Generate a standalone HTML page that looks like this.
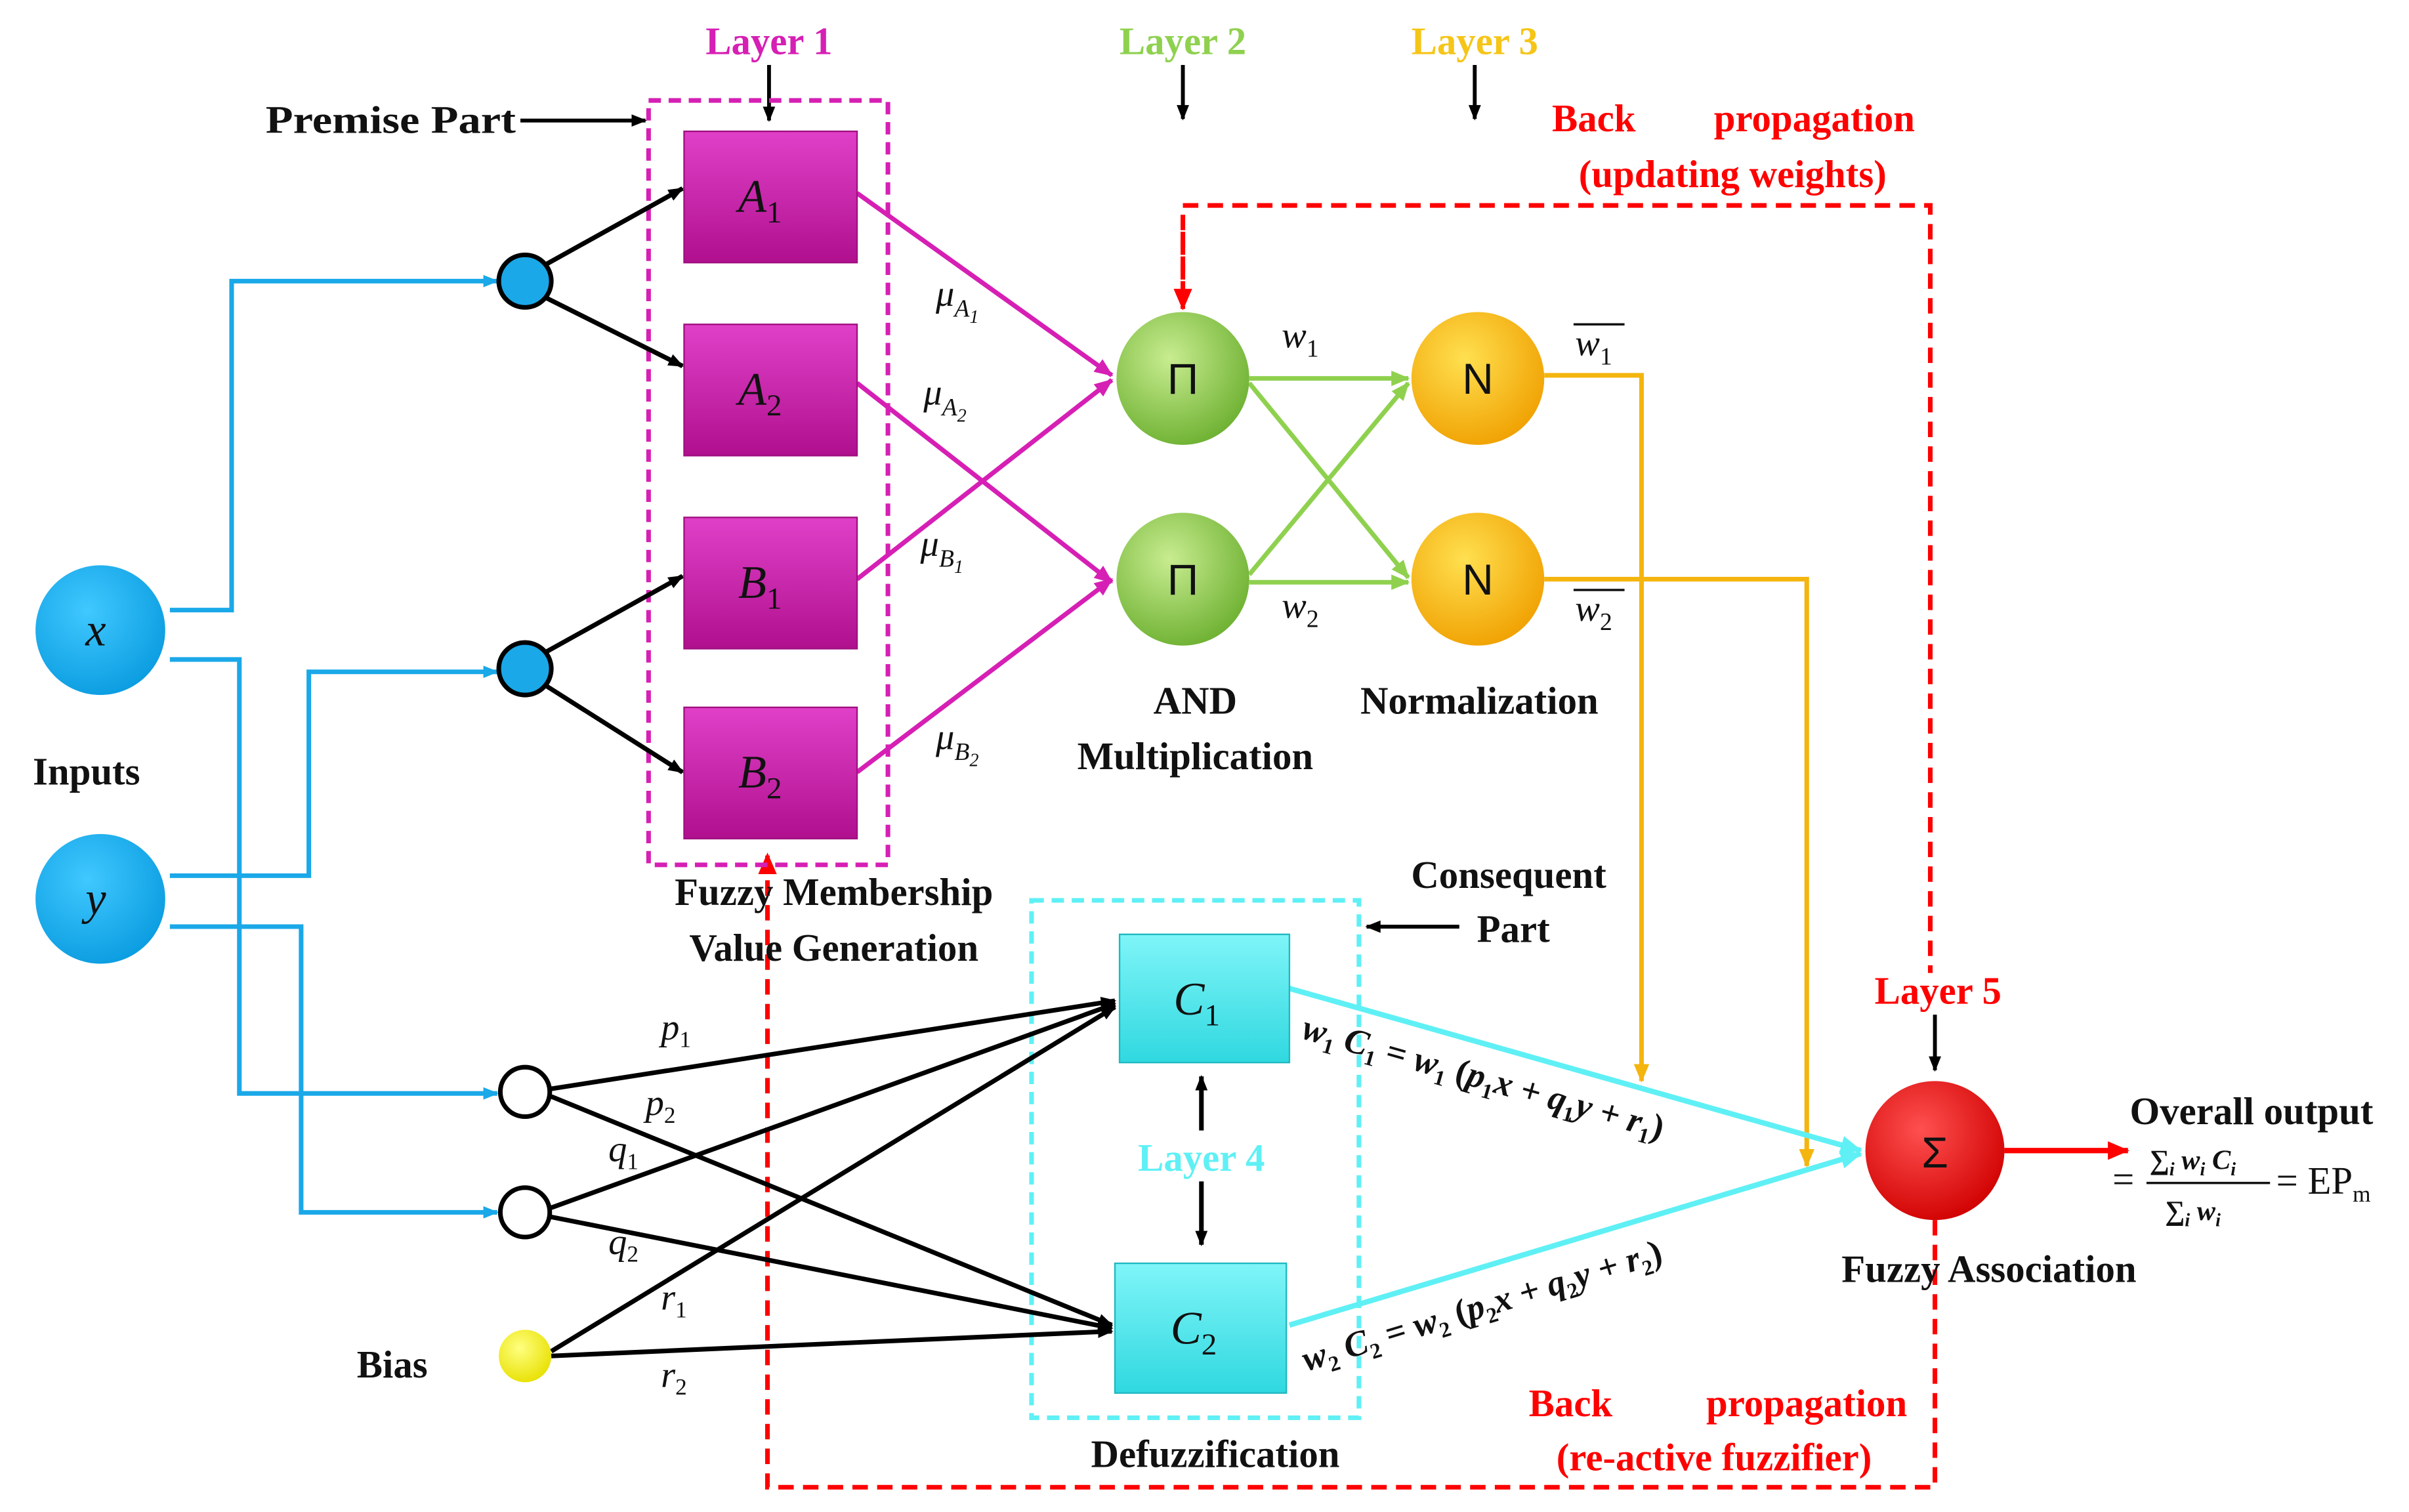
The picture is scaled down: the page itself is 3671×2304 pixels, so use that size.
<!DOCTYPE html>
<html><head><meta charset="utf-8"><style>
html,body{margin:0;padding:0;background:#fff;}
svg{display:block;}
text{font-family:"Liberation Serif",serif;}
.b{font-weight:bold;font-size:25px;fill:#111;}
.i{font-style:italic;font-size:24px;fill:#111;}
</style></head><body>
<svg width="3671" height="2304" viewBox="0 0 1560 979" xmlns="http://www.w3.org/2000/svg">
<defs>
<marker id="ak" markerWidth="10" markerHeight="10" refX="9" refY="5" orient="auto" markerUnits="userSpaceOnUse"><path d="M0,1 L10,5 L0,9 z" fill="#000"/></marker>
<marker id="ab" markerWidth="10" markerHeight="10" refX="9" refY="5" orient="auto" markerUnits="userSpaceOnUse"><path d="M0,1 L10,5 L0,9 z" fill="#1aa8e8"/></marker>
<marker id="am" markerWidth="12" markerHeight="12" refX="11" refY="6" orient="auto" markerUnits="userSpaceOnUse"><path d="M0,1 L12,6 L0,11 z" fill="#d61fb4"/></marker>
<marker id="ag" markerWidth="12" markerHeight="12" refX="11" refY="6" orient="auto" markerUnits="userSpaceOnUse"><path d="M0,1 L12,6 L0,11 z" fill="#8fd14f"/></marker>
<marker id="ao" markerWidth="12" markerHeight="12" refX="11" refY="6" orient="auto" markerUnits="userSpaceOnUse"><path d="M0,1 L12,6 L0,11 z" fill="#f5b50f"/></marker>
<marker id="ac" markerWidth="14" markerHeight="14" refX="13" refY="7" orient="auto" markerUnits="userSpaceOnUse"><path d="M0,1 L14,7 L0,13 z" fill="#5ff0f5"/></marker>
<marker id="ar" markerWidth="14" markerHeight="14" refX="13" refY="7" orient="auto" markerUnits="userSpaceOnUse"><path d="M0,1 L14,7 L0,13 z" fill="#f00"/></marker>
<linearGradient id="mg" x1="0" y1="0" x2="0" y2="1"><stop offset="0" stop-color="#e040c8"/><stop offset="1" stop-color="#b0108e"/></linearGradient>
<linearGradient id="cg" x1="0" y1="0" x2="0" y2="1"><stop offset="0" stop-color="#7ff5f8"/><stop offset="1" stop-color="#30d8e0"/></linearGradient>
<radialGradient id="gg" cx="0.4" cy="0.35" r="0.7"><stop offset="0" stop-color="#c8ec90"/><stop offset="1" stop-color="#6cb030"/></radialGradient>
<radialGradient id="og" cx="0.4" cy="0.35" r="0.7"><stop offset="0" stop-color="#ffe050"/><stop offset="1" stop-color="#f0a000"/></radialGradient>
<radialGradient id="rg" cx="0.4" cy="0.35" r="0.7"><stop offset="0" stop-color="#ff5050"/><stop offset="1" stop-color="#d00000"/></radialGradient>
<radialGradient id="bg" cx="0.4" cy="0.35" r="0.7"><stop offset="0" stop-color="#40c8ff"/><stop offset="1" stop-color="#0a9ce0"/></radialGradient>
<radialGradient id="yg" cx="0.4" cy="0.35" r="0.7"><stop offset="0" stop-color="#ffff80"/><stop offset="1" stop-color="#e8e000"/></radialGradient>
</defs>

<text x="498" y="35" text-anchor="middle" class="b" style="fill:#d61fb4">Layer 1</text>
<text x="766" y="35" text-anchor="middle" class="b" style="fill:#8fd14f">Layer 2</text>
<text x="955" y="35" text-anchor="middle" class="b" style="fill:#f5c518">Layer 3</text>
<line x1="498" y1="42" x2="498" y2="78" stroke="#000" stroke-width="2.5" marker-end="url(#ak)"/>
<line x1="766" y1="42" x2="766" y2="77" stroke="#000" stroke-width="2.5" marker-end="url(#ak)"/>
<line x1="955" y1="42" x2="955" y2="77" stroke="#000" stroke-width="2.5" marker-end="url(#ak)"/>
<text x="172" y="86" class="b" textLength="162" lengthAdjust="spacingAndGlyphs">Premise Part</text>
<line x1="337" y1="78" x2="418" y2="78" stroke="#000" stroke-width="2.5" marker-end="url(#ak)"/>

<text x="1005" y="85" class="b" style="fill:#f00">Back</text>
<text x="1240" y="85" text-anchor="end" class="b" style="fill:#f00">propagation</text>
<text x="1122" y="121" text-anchor="middle" class="b" style="fill:#f00">(updating weights)</text>

<polyline points="766,197 766,133 1250,133 1250,630" fill="none" stroke="#f00" stroke-width="3" stroke-dasharray="10,6"/>
<line x1="766" y1="150" x2="766" y2="200" stroke="#f00" stroke-width="3" stroke-dasharray="10,6" marker-end="url(#ar)"/>
<polyline points="1253,790 1253,963 497,963 497,553" fill="none" stroke="#f00" stroke-width="3" stroke-dasharray="10,6" marker-end="url(#ar)"/>

<rect x="420" y="65" width="155" height="495" fill="none" stroke="#d61fb4" stroke-width="3" stroke-dasharray="8,5"/>
<rect x="668" y="583" width="212" height="335" fill="none" stroke="#5ff0f5" stroke-width="3" stroke-dasharray="8,5"/>

<g fill="none" stroke="#1aa8e8" stroke-width="3">
<polyline points="110,395 150,395 150,182 322,182" marker-end="url(#ab)"/>
<polyline points="110,427 155,427 155,708 322,708" marker-end="url(#ab)"/>
<polyline points="110,567 200,567 200,435 322,435" marker-end="url(#ab)"/>
<polyline points="110,600 195,600 195,785 322,785" marker-end="url(#ab)"/>
</g>

<g stroke="#000" stroke-width="3">
<line x1="352" y1="172" x2="442" y2="122" marker-end="url(#ak)"/>
<line x1="352" y1="192" x2="442" y2="237" marker-end="url(#ak)"/>
<line x1="352" y1="423" x2="442" y2="373" marker-end="url(#ak)"/>
<line x1="352" y1="443" x2="442" y2="500" marker-end="url(#ak)"/>
</g>

<g stroke="#d61fb4" stroke-width="3">
<line x1="555" y1="125" x2="720" y2="243" marker-end="url(#am)"/>
<line x1="555" y1="248" x2="720" y2="377" marker-end="url(#am)"/>
<line x1="555" y1="375" x2="720" y2="246" marker-end="url(#am)"/>
<line x1="555" y1="500" x2="720" y2="375" marker-end="url(#am)"/>
</g>

<g stroke="#8fd14f" stroke-width="3">
<line x1="809" y1="245" x2="912" y2="245" marker-end="url(#ag)"/>
<line x1="809" y1="248" x2="912" y2="374" marker-end="url(#ag)"/>
<line x1="809" y1="372" x2="912" y2="248" marker-end="url(#ag)"/>
<line x1="809" y1="377" x2="912" y2="377" marker-end="url(#ag)"/>
</g>

<g fill="none" stroke="#f5b50f" stroke-width="3">
<polyline points="1000,243 1063,243 1063,700" marker-end="url(#ao)"/>
<polyline points="1000,375 1170,375 1170,755" marker-end="url(#ao)"/>
</g>

<g stroke="#000" stroke-width="3">
<line x1="357" y1="705" x2="722" y2="648" marker-end="url(#ak)"/>
<line x1="357" y1="710" x2="720" y2="858" marker-end="url(#ak)"/>
<line x1="357" y1="782" x2="722" y2="650" marker-end="url(#ak)"/>
<line x1="357" y1="788" x2="720" y2="860" marker-end="url(#ak)"/>
<line x1="357" y1="875" x2="722" y2="652" marker-end="url(#ak)"/>
<line x1="357" y1="878" x2="720" y2="862" marker-end="url(#ak)"/>
</g>

<g stroke="#5ff0f5" stroke-width="3.5">
<line x1="835" y1="640" x2="1205" y2="745" marker-end="url(#ac)"/>
<line x1="835" y1="858" x2="1205" y2="747" marker-end="url(#ac)"/>
</g>

<line x1="1298" y1="745" x2="1378" y2="745" stroke="#f00" stroke-width="3.5" marker-end="url(#ar)"/>
<text x="1255" y="650" text-anchor="middle" class="b" style="fill:#f00">Layer 5</text>
<line x1="1253" y1="657" x2="1253" y2="693" stroke="#000" stroke-width="2.5" marker-end="url(#ak)"/>

<line x1="778" y1="732" x2="778" y2="697" stroke="#000" stroke-width="3" marker-end="url(#ak)"/>
<line x1="778" y1="765" x2="778" y2="806" stroke="#000" stroke-width="3" marker-end="url(#ak)"/>
<text x="778" y="758" text-anchor="middle" class="b" style="fill:#5ff0f5">Layer 4</text>

<rect x="443" y="85" width="112" height="85" fill="url(#mg)" stroke="#a01080"/>
<rect x="443" y="210" width="112" height="85" fill="url(#mg)" stroke="#a01080"/>
<rect x="443" y="335" width="112" height="85" fill="url(#mg)" stroke="#a01080"/>
<rect x="443" y="458" width="112" height="85" fill="url(#mg)" stroke="#a01080"/>
<text x="478" y="137" class="i" style="font-size:30px">A<tspan font-size="20" dy="7" font-style="normal">1</tspan></text>
<text x="478" y="262" class="i" style="font-size:30px">A<tspan font-size="20" dy="7" font-style="normal">2</tspan></text>
<text x="478" y="387" class="i" style="font-size:30px">B<tspan font-size="20" dy="7" font-style="normal">1</tspan></text>
<text x="478" y="510" class="i" style="font-size:30px">B<tspan font-size="20" dy="7" font-style="normal">2</tspan></text>

<rect x="725" y="605" width="110" height="83" fill="url(#cg)" stroke="#20b8c0"/>
<rect x="722" y="818" width="111" height="84" fill="url(#cg)" stroke="#20b8c0"/>
<text x="760" y="657" class="i" style="font-size:30px">C<tspan font-size="20" dy="7" font-style="normal">1</tspan></text>
<text x="758" y="870" class="i" style="font-size:30px">C<tspan font-size="20" dy="7" font-style="normal">2</tspan></text>

<circle cx="65" cy="408" r="42" fill="url(#bg)"/>
<circle cx="65" cy="582" r="42" fill="url(#bg)"/>
<text x="62" y="418" text-anchor="middle" class="i" style="font-size:30px">x</text>
<text x="62" y="592" text-anchor="middle" class="i" style="font-size:30px">y</text>
<circle cx="340" cy="182" r="17" fill="#1aa8e8" stroke="#000" stroke-width="3"/>
<circle cx="340" cy="433" r="17" fill="#1aa8e8" stroke="#000" stroke-width="3"/>
<circle cx="340" cy="707" r="16" fill="#fff" stroke="#000" stroke-width="3"/>
<circle cx="340" cy="785" r="16" fill="#fff" stroke="#000" stroke-width="3"/>
<circle cx="340" cy="878" r="17" fill="url(#yg)"/>
<circle cx="766" cy="245" r="43" fill="url(#gg)"/>
<circle cx="766" cy="375" r="43" fill="url(#gg)"/>
<circle cx="957" cy="245" r="43" fill="url(#og)"/>
<circle cx="957" cy="375" r="43" fill="url(#og)"/>
<circle cx="1253" cy="745" r="45" fill="url(#rg)"/>
<g style="font-size:28px" text-anchor="middle" fill="#111">
<text x="766" y="255" style="font-family:'Liberation Sans',sans-serif">Π</text>
<text x="766" y="385" style="font-family:'Liberation Sans',sans-serif">Π</text>
<text x="957" y="255" style="font-family:'Liberation Sans',sans-serif">N</text>
<text x="957" y="385" style="font-family:'Liberation Sans',sans-serif">N</text>
<text x="1253" y="756" style="font-family:'Liberation Sans',sans-serif">Σ</text>
</g>

<text x="606" y="198" class="i">μ<tspan font-size="16" dy="7">A<tspan font-size="12" dy="4">1</tspan></tspan></text>
<text x="598" y="262" class="i">μ<tspan font-size="16" dy="7">A<tspan font-size="12" dy="4">2</tspan></tspan></text>
<text x="596" y="360" class="i">μ<tspan font-size="16" dy="7">B<tspan font-size="12" dy="4">1</tspan></tspan></text>
<text x="606" y="485" class="i">μ<tspan font-size="16" dy="7">B<tspan font-size="12" dy="4">2</tspan></tspan></text>

<text x="830" y="225" class="i">w<tspan font-size="16" dy="6" font-style="normal">1</tspan></text>
<text x="830" y="400" class="i">w<tspan font-size="16" dy="6" font-style="normal">2</tspan></text>
<text x="1020" y="230" class="i">w<tspan font-size="16" dy="6" font-style="normal">1</tspan></text>
<line x1="1019" y1="210" x2="1052" y2="210" stroke="#111" stroke-width="1.5"/>
<text x="1020" y="402" class="i">w<tspan font-size="16" dy="6" font-style="normal">2</tspan></text>
<line x1="1019" y1="382" x2="1052" y2="382" stroke="#111" stroke-width="1.5"/>

<text x="774" y="462" text-anchor="middle" class="b">AND</text>
<text x="774" y="498" text-anchor="middle" class="b">Multiplication</text>
<text x="958" y="462" text-anchor="middle" class="b">Normalization</text>
<text x="56" y="508" text-anchor="middle" class="b">Inputs</text>
<text x="540" y="586" text-anchor="middle" class="b">Fuzzy Membership</text>
<text x="540" y="622" text-anchor="middle" class="b">Value Generation</text>
<text x="977" y="575" text-anchor="middle" class="b">Consequent</text>
<text x="980" y="610" text-anchor="middle" class="b">Part</text>
<line x1="945" y1="600" x2="885" y2="600" stroke="#000" stroke-width="2.5" marker-end="url(#ak)"/>
<text x="787" y="950" text-anchor="middle" class="b">Defuzzification</text>
<text x="1288" y="830" text-anchor="middle" class="b">Fuzzy Association</text>
<text x="990" y="917" class="b" style="fill:#f00">Back</text>
<text x="1235" y="917" text-anchor="end" class="b" style="fill:#f00">propagation</text>
<text x="1110" y="952" text-anchor="middle" class="b" style="fill:#f00">(re-active fuzzifier)</text>
<text x="254" y="892" text-anchor="middle" class="b">Bias</text>
<text x="1458" y="728" text-anchor="middle" class="b">Overall output</text>
<text x="1368" y="772" class="b" style="font-weight:normal">=</text>
<text x="1392" y="757" class="i" style="font-size:18px;font-weight:bold">∑<tspan font-size="12" dy="4">i</tspan><tspan dy="-4"> w</tspan><tspan font-size="12" dy="4">i</tspan><tspan dy="-4"> C</tspan><tspan font-size="12" dy="4">i</tspan></text>
<line x1="1390" y1="766" x2="1470" y2="766" stroke="#111" stroke-width="1.5"/>
<text x="1402" y="790" class="i" style="font-size:18px;font-weight:bold">∑<tspan font-size="12" dy="4">i</tspan><tspan dy="-4"> w</tspan><tspan font-size="12" dy="4">i</tspan></text>
<text x="1474" y="773" class="b" style="font-weight:normal">= EP<tspan font-size="15" dy="5">m</tspan></text>

<text x="428" y="673" class="i">p<tspan font-size="15" dy="5" font-style="normal">1</tspan></text>
<text x="418" y="722" class="i">p<tspan font-size="15" dy="5" font-style="normal">2</tspan></text>
<text x="394" y="752" class="i">q<tspan font-size="15" dy="5" font-style="normal">1</tspan></text>
<text x="394" y="812" class="i">q<tspan font-size="15" dy="5" font-style="normal">2</tspan></text>
<text x="428" y="848" class="i">r<tspan font-size="15" dy="5" font-style="normal">1</tspan></text>
<text x="428" y="898" class="i">r<tspan font-size="15" dy="5" font-style="normal">2</tspan></text>

<text transform="translate(842,672) rotate(15.8)" class="i" style="font-size:23px;font-weight:bold">w<tspan font-size="14" dy="5" font-style="normal">1</tspan><tspan dy="-5"> C</tspan><tspan font-size="14" dy="5" font-style="normal">1</tspan><tspan dy="-5" font-style="normal"> = </tspan><tspan>w</tspan><tspan font-size="14" dy="5" font-style="normal">1</tspan><tspan dy="-5" font-style="normal"> (</tspan><tspan>p</tspan><tspan font-size="14" dy="5" font-style="normal">1</tspan><tspan dy="-5">x + q</tspan><tspan font-size="14" dy="5" font-style="normal">1</tspan><tspan dy="-5">y + r</tspan><tspan font-size="14" dy="5" font-style="normal">1</tspan><tspan dy="-5" font-style="normal">)</tspan></text>
<text transform="translate(846,888) rotate(-17)" class="i" style="font-size:23px;font-weight:bold">w<tspan font-size="14" dy="5" font-style="normal">2</tspan><tspan dy="-5"> C</tspan><tspan font-size="14" dy="5" font-style="normal">2</tspan><tspan dy="-5" font-style="normal"> = </tspan><tspan>w</tspan><tspan font-size="14" dy="5" font-style="normal">2</tspan><tspan dy="-5" font-style="normal"> (</tspan><tspan>p</tspan><tspan font-size="14" dy="5" font-style="normal">2</tspan><tspan dy="-5">x + q</tspan><tspan font-size="14" dy="5" font-style="normal">2</tspan><tspan dy="-5">y + r</tspan><tspan font-size="14" dy="5" font-style="normal">2</tspan><tspan dy="-5" font-style="normal">)</tspan></text>
</svg>
</body></html>
